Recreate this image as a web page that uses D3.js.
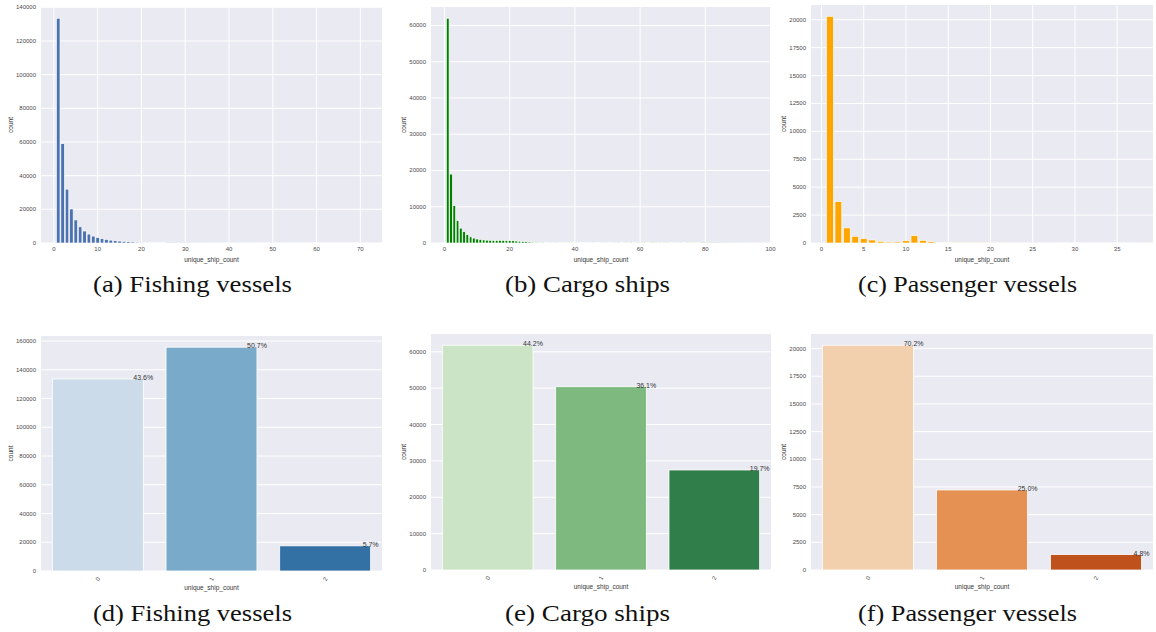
<!DOCTYPE html>
<html>
<head>
<meta charset="utf-8">
<script src="https://cdn.jsdelivr.net/npm/d3@7"></script>
<style>
  body { margin: 0; background: #fff; }
  svg { display: block; }
  .tick-label { font-family: "Liberation Sans", Arial, sans-serif; font-size: 6px; fill: #4a4a4a; }
  .axis-label { font-family: "Liberation Sans", Arial, sans-serif; font-size: 6.5px; fill: #333; }
  .pct { font-family: "Liberation Sans", Arial, sans-serif; font-size: 7px; fill: #333; }
  .caption { font-family: "Liberation Serif", "DejaVu Serif", serif; font-size: 23px; fill: #111; }
</style>
</head>
<body>
<div id="chart"></div>
<script>
// histogram counts, one value per unique_ship_count = 1, 2, 3 ...
const fishingCounts = [133500,59000,32000,20200,13700,9600,7100,5300,4100,3200,
  2600,2100,1700,1400,1150,950,780,650,540,450,
  380,320,270,230,200,170,150,130,110,95,
  85,75,65,58,50,45,40,36,32,29,
  26,24,22,20,18,16,15,14,13,12,
  11,10,9,9,8,8,7,7,6,6,
  5,5,5,4,4,4,3,3,3,2,2];
const cargoCounts = [62000,19000,10300,6200,4100,3100,2300,1700,1350,1100,
  950,850,780,740,720,700,700,690,680,650,
  600,540,480,420,340,280,240,210,190,170,
  160,150,140,130,120,120,110,110,100,100,
  100,105,110,110,115,120,120,125,130,130,
  135,140,140,145,150,150,155,160,170,180,
  185,190,190,195,200,200,195,190,190,185,
  180,175,170,165,160,150,140,120,60,50,
  45,40,40,35,35,30,30,25,25,20,
  20,18,15,15,12];
const passengerCounts = [20300,3700,1350,600,380,270,150,90,100,200,
  650,230,120,40,30,20,15,12,10,8,
  8,6,6,5,5,4,4,3,3,3,
  2,2,2,2,1,1,1];

// count plots
const categories = ['0', '1', '2'];
const fishingCat = [133600, 155700, 17500];
const cargoCat = [61800, 50400, 27500];
const passengerCat = [20300, 7230, 1390];
const fishingPct = ['43.6%', '50.7%', '5.7%'];
const cargoPct = ['44.2%', '36.1%', '19.7%'];
const passengerPct = ['70.2%', '25.0%', '4.8%'];

// tick labels
const fishingXTicks = [0,10,20,30,40,50,60,70];
const cargoXTicks = [0,20,40,60,80,100];
const passengerXTicks = [0,5,10,15,20,25,30,35];
const fishingYTicks = [0,20000,40000,60000,80000,100000,120000,140000];
const cargoYTicks = [0,10000,20000,30000,40000,50000,60000];
const passengerYTicks = [0,2500,5000,7500,10000,12500,15000,17500,20000];
const fishingCatYTicks = [0,20000,40000,60000,80000,100000,120000,140000,160000];

const captions = ['(a) Fishing vessels','(b) Cargo ships','(c) Passenger vessels',
  '(d) Fishing vessels','(e) Cargo ships','(f) Passenger vessels'];

const W = 1156, H = 632;
const svg = d3.select('#chart').append('svg')
  .attr('width', W)
  .attr('height', H);

function frame(p, yScale, yTicks){
  const g = svg.append('g');
  g.append('rect')
    .attr('x', p.left).attr('y', p.top)
    .attr('width', p.right - p.left).attr('height', p.bottom - p.top)
    .attr('fill', '#eaeaf2');
  g.selectAll('.hgrid')
    .data(yTicks)
    .enter()
    .append('line')
    .attr('x1', p.left).attr('x2', p.right)
    .attr('y1', d => yScale(d)).attr('y2', d => yScale(d))
    .attr('stroke', '#fff').attr('stroke-width', 1);
  g.selectAll('.ylab')
    .data(yTicks)
    .enter()
    .append('text')
    .attr('class', 'tick-label')
    .attr('x', p.left - 5)
    .attr('y', d => yScale(d) + 2)
    .attr('text-anchor', 'end')
    .text(d => d);
  // axis labels
  g.append('text')
    .attr('class', 'axis-label')
    .attr('transform', `translate(${p.ylabX},${(p.top + p.bottom) / 2}) rotate(-90)`)
    .attr('text-anchor', 'middle')
    .text('count');
  g.append('text')
    .attr('class', 'axis-label')
    .attr('x', (p.left + p.right) / 2)
    .attr('y', p.bottom + 19)
    .attr('text-anchor', 'middle')
    .text('unique_ship_count');
  return g;
}

function renderHist(counts, color, xTicks, yTicks, p){
  const lo = 0.6, hi = counts.length + 0.4;
  const m = (hi - lo) * 0.05;
  const x = d3.scaleLinear().domain([lo - m, hi + m]).range([p.left, p.right]);
  const y = d3.scaleLinear().domain([0, d3.max(counts) * 1.05]).range([p.bottom, p.top]);
  const g = frame(p, y, yTicks);

  g.selectAll('.vgrid')
    .data(xTicks)
    .enter()
    .append('line')
    .attr('x1', d => x(d)).attr('x2', d => x(d))
    .attr('y1', p.top).attr('y2', p.bottom)
    .attr('stroke', '#fff').attr('stroke-width', 1);

  g.selectAll('.bar')
    .data(counts)
    .enter()
    .append('rect')
    .attr('x', (d, i) => x(i + 1 - 0.4))
    .attr('width', x(0.8) - x(0))
    .attr('y', d => y(d))
    .attr('height', d => p.bottom - y(d))
    .attr('fill', color)
    .attr('stroke', '#fff')
    .attr('stroke-width', 0.6);

  g.selectAll('.xlab')
    .data(xTicks)
    .enter()
    .append('text')
    .attr('class', 'tick-label')
    .attr('x', d => x(d))
    .attr('y', p.bottom + 8)
    .attr('text-anchor', 'middle')
    .text(d => d);
}

function renderCount(counts, colors, pcts, yTicks, p){
  const x = d3.scaleBand().domain(categories).range([p.left, p.right])
    .paddingInner(0.2).paddingOuter(0.1);
  const y = d3.scaleLinear().domain([0, d3.max(counts) * 1.05]).range([p.bottom, p.top]);
  const g = frame(p, y, yTicks);

  g.selectAll('.bar')
    .data(counts)
    .enter()
    .append('rect')
    .attr('x', (d, i) => x(categories[i]))
    .attr('width', x.bandwidth())
    .attr('y', d => y(d))
    .attr('height', d => p.bottom - y(d))
    .attr('fill', (d, i) => colors[i])
    .attr('stroke', '#fff')
    .attr('stroke-width', 0.8);

  g.selectAll('.pct')
    .data(counts)
    .enter()
    .append('text')
    .attr('class', 'pct')
    .attr('x', (d, i) => x(categories[i]) + x.bandwidth())
    .attr('y', d => y(d) + 1)
    .attr('text-anchor', 'middle')
    .text((d, i) => pcts[i]);

  g.selectAll('.xlab')
    .data(categories)
    .enter()
    .append('text')
    .attr('class', 'tick-label')
    .attr('transform', d => `translate(${x(d) + x.bandwidth() / 2},${p.bottom + 8}) rotate(-60)`)
    .attr('text-anchor', 'middle')
    .attr('dy', '0.35em')
    .text(d => d);
}

const panels = [
  {left: 41, right: 382, top: 7, bottom: 243, ylabX: 13},
  {left: 431, right: 771, top: 7, bottom: 243, ylabX: 406},
  {left: 811, right: 1153, top: 5, bottom: 243, ylabX: 786},
  {left: 41, right: 382, top: 336, bottom: 571, ylabX: 13},
  {left: 431, right: 771, top: 334, bottom: 570, ylabX: 406},
  {left: 811, right: 1153, top: 334, bottom: 570, ylabX: 786}
];

renderHist(fishingCounts, '#4c72b0', fishingXTicks, fishingYTicks, panels[0]);
renderHist(cargoCounts, '#008000', cargoXTicks, cargoYTicks, panels[1]);
renderHist(passengerCounts, '#ffa500', passengerXTicks, passengerYTicks, panels[2]);

renderCount(fishingCat, ['#cbdbea', '#79aac9', '#3370a3'], fishingPct, fishingCatYTicks, panels[3]);
renderCount(cargoCat, ['#cae4c5', '#7eba80', '#307e4a'], cargoPct, cargoYTicks, panels[4]);
renderCount(passengerCat, ['#f2d0ad', '#e59154', '#be511c'], passengerPct, passengerYTicks, panels[5]);

// sub-figure captions
const capX = [192.5, 587.5, 967.5];
const capW = [199, 165, 219];
svg.selectAll('.caption')
  .data(captions)
  .enter()
  .append('text')
  .attr('class', 'caption')
  .attr('x', (d, i) => capX[i % 3])
  .attr('y', (d, i) => i < 3 ? 292 : 621)
  .attr('text-anchor', 'middle')
  .attr('textLength', (d, i) => capW[i % 3])
  .attr('lengthAdjust', 'spacingAndGlyphs')
  .text(d => d);
</script>
</body>
</html>
